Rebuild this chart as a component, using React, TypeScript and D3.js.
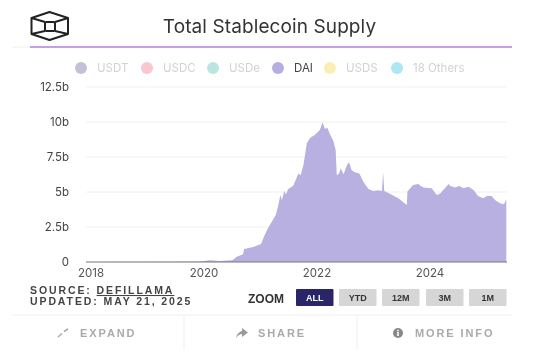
import React from "react";
import * as d3 from "d3";

const years = [2017.91,2019.5,2019.93,2020.11,2020.28,2020.5,2020.58,2020.69,2020.71,2020.87,2021.01,2021.06,2021.13,2021.27,2021.32,2021.35,2021.38,2021.42,2021.45,2021.49,2021.58,2021.67,2021.71,2021.76,2021.82,2021.88,2021.96,2022.05,2022.1,2022.14,2022.18,2022.23,2022.29,2022.33,2022.35,2022.39,2022.42,2022.47,2022.53,2022.57,2022.61,2022.67,2022.75,2022.82,2022.91,2023.0,2023.08,2023.15,2023.17,2023.19,2023.29,2023.44,2023.59,2023.6,2023.7,2023.79,2023.88,2024.03,2024.12,2024.18,2024.33,2024.36,2024.44,2024.52,2024.59,2024.68,2024.77,2024.85,2024.94,2025.01,2025.09,2025.15,2025.24,2025.31,2025.35];
const daiSupply = [0,0.01,0.03,0.12,0.07,0.12,0.38,0.55,0.93,1.07,1.29,1.8,2.4,3.36,4.14,4.79,4.43,5.07,4.83,5.21,5.45,6.33,6.2,6.93,8.48,8.88,9.07,9.43,9.98,9.5,9.6,9.12,8.64,8.0,6.2,6.33,6.69,6.26,6.93,7.12,6.57,6.41,6.33,5.74,5.21,5.07,5.12,5.07,6.41,5.07,4.88,4.55,4.07,5.03,5.5,5.57,5.33,5.26,4.79,4.9,5.57,5.43,5.33,5.43,5.26,5.38,5.14,4.71,4.55,4.71,4.71,4.43,4.2,4.12,4.48];
const yTicks = [0,2.5,5,7.5,10,12.5];
const yTickLabels = ["0","2.5b","5b","7.5b","10b","12.5b"];
const xTicks = [2018,2020,2022,2024];
const legendNames = ["USDT","USDC","USDe","DAI","USDS","18 Others"];
const legendColors = ["#c4c1d6","#f9c6d2","#b9e6e2","#b5aee0","#fbeeb4","#aee6f4"];
const legendDotX = [81,147,213,278,330,397];
const zoomLabels = ["ALL","YTD","12M","3M","1M"];
const zoomX = [296,339,382,426,469];

const x = d3.scaleLinear().domain([2018,2024]).range([91,430]);
const y = d3.scaleLinear().domain([0,12.5]).range([262,87]);
const area = d3.area<number>().x((_,i)=>x(years[i])).y0(y(0)).y1(d=>y(d));
const sans = "Liberation Sans, Arial, sans-serif";
const round = "Inter, Lato, sans-serif";

export default function App(){
  return (
    <svg width={554} height={354} style={{position:"fixed",left:0,top:0,background:"#fff",filter:"blur(0.45px)"}}>
      <g fill="none" stroke="#222" strokeWidth={2} strokeLinejoin="round">
        <path d="M49.5 12 L68 18 L68 34 L49.5 40 L31.5 34 L31.5 18 Z"/>
        <path d="M31.5 18 L45 22 M68 18 L55 22 M31.5 34 L45 31 M68 34 L55 31 M49.5 12 L49.5 12"/>
        <rect x={45} y={22} width={10} height={9} rx={1.5}/>
      </g>
      <text x={269.5} y={33} textAnchor="middle" fontFamily={round} fontSize={19} letterSpacing={0.1} fill="#333">Total Stablecoin Supply</text>
      <line x1={12} x2={30} y1={47} y2={47} stroke="#eee"/>
      <line x1={30} x2={512} y1={47} y2={47} stroke="#b57fd8" strokeWidth={1.3}/>
      {legendNames.map((n,i)=>(
        <g key={n}>
          <circle cx={legendDotX[i]} cy={68} r={6} fill={legendColors[i]}/>
          <text x={legendDotX[i]+16} y={72} fontFamily={round} fontSize={11.5} fill={n==="DAI"?"#444":"#d2d2d2"}>{n}</text>
        </g>
      ))}
      {yTicks.map((t,i)=>(
        <g key={t}>
          {t>0 && <line x1={86} x2={507} y1={y(t)} y2={y(t)} stroke="#f0f0f0"/>}
          <text x={69} y={y(t)+4} textAnchor="end" fontFamily={round} fontSize={11.5} fill="#444">{yTickLabels[i]}</text>
        </g>
      ))}
      <path d={area(daiSupply)!} fill="#b7b0e0"/>
      <line x1={86} x2={507} y1={y(0)} y2={y(0)} stroke="#777" strokeWidth={1.2}/>
      {xTicks.map(t=>(
        <text key={t} x={x(t)} y={277} textAnchor="middle" fontFamily={round} fontSize={11.5} fill="#555">{t}</text>
      ))}
      <g fontFamily={sans} fontWeight={700} fontSize={10.5} fill="#444" letterSpacing={1.9}>
        <text x={30} y={294}>SOURCE: <tspan textDecoration="underline">DEFILLAMA</tspan></text>
        <text x={30} y={305}>UPDATED: MAY 21, 2025</text>
      </g>
      <text x={248} y={303} fontFamily={sans} fontWeight={700} fontSize={12} fill="#333">ZOOM</text>
      {zoomLabels.map((l,i)=>(
        <g key={l}>
          <rect x={zoomX[i]} y={289} width={37.5} height={17} rx={1} fill={i===0?"#2a2468":"#d6d6d6"}/>
          <text x={zoomX[i]+18.7} y={301} textAnchor="middle" fontFamily={sans} fontWeight={700} fontSize={9} fill={i===0?"#fff":"#333"}>{l}</text>
        </g>
      ))}
      <g stroke="#efefef">
        <line x1={12} x2={512} y1={315} y2={315}/>
        <line x1={184} x2={184} y1={315} y2={350}/>
        <line x1={357} x2={357} y1={315} y2={350}/>
      </g>
      <g fontFamily={sans} fontWeight={700} fontSize={11} fill="#aaa" letterSpacing={1.9}>
        <text x={80} y={337}>EXPAND</text>
        <text x={258} y={337}>SHARE</text>
        <text x={415} y={337}>MORE INFO</text>
      </g>
      <path d="M58 337 L62 333.5 M64 331.5 L68 329" stroke="#aaa" strokeWidth={1.5} fill="none"/>
      <path d="M236 338 C237 333 241 331 242 331 L242 328 L248 332.5 L242 337 L242 334 C240 334 238 335 236 338 Z" fill="#999"/>
      <circle cx={398} cy={333} r={5} fill="#888"/>
      <rect x={397.2} y={332} width={1.6} height={4} fill="#fff"/>
      <rect x={397.2} y={329.8} width={1.6} height={1.5} fill="#fff"/>
    </svg>
  );
}
